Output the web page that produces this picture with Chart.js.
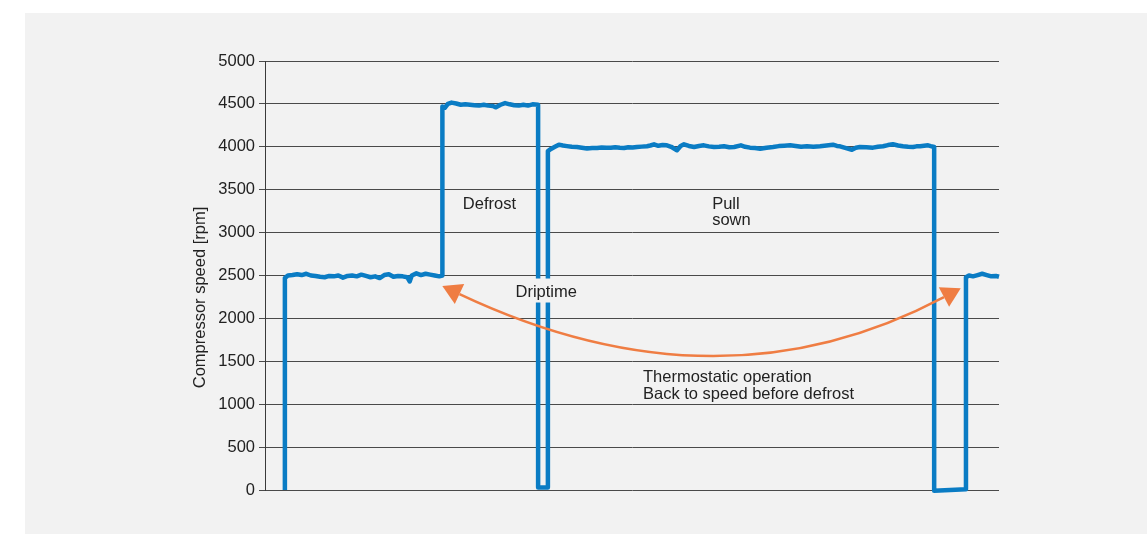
<!DOCTYPE html>
<html>
<head>
<meta charset="utf-8">
<script src="https://cdn.jsdelivr.net/npm/chart.js@4.4.1/dist/chart.umd.min.js"></script>
<style>
  html, body { margin: 0; padding: 0; background: #ffffff; }
  #panel { position: absolute; left: 25px; top: 13px; width: 1122px; height: 521px; background: #f2f2f2; }
  #panel canvas { display: block; }
</style>
</head>
<body>
<div id="panel"><canvas id="speedChart" width="1122" height="521"></canvas></div>
<script>
// Time axis (minutes) and compressor speed (rpm) over one defrost cycle
const times = [
  6.5, 6.5, 7.5, 9, 10.5, 12, 13.5, 15, 16.5, 18, 19.5, 21, 22.5, 24, 25.5, 27, 28.5, 30, 31.5, 33,
  34.5, 36, 37.5, 39, 40.5, 42, 43.5, 45, 46.5, 47.3, 48, 49.5, 51, 52.5, 54, 55.5, 57, 58,
  58, 58.8, 59.8, 61, 62.5, 64, 65.5, 67, 68.5, 70, 71.5, 73, 74.5, 75.5, 77, 78.5, 80, 81.5,
  83, 84.5, 86, 87.5, 89.3,
  89.3, 92.5,
  92.5, 93.5, 94.8, 96.1, 97.4, 98.7, 100.3, 102, 103.6, 105.3, 107, 108.6, 110.1, 111.6, 113.1,
  114.5, 116, 117.4, 118.8, 120.2, 121.6, 123.2, 124.9, 126, 127.2, 128.6, 130, 131.4, 132.8, 134,
  134.7, 135.9, 137, 138.6, 140.3, 141.9, 143.5, 145.1, 146.8, 148.5, 150.1, 151.8, 153.4, 155.6,
  157, 158.6, 160.2, 161.9, 164, 166.1, 168, 169.8, 171.7, 173.5, 175.3, 177.2, 179.3, 181.5,
  183.6, 185.7, 187, 188, 190, 191.9, 193.2, 194.5, 196.6, 198.8, 200.4, 202.1, 203.7, 205.3,
  207, 208.6, 210.3, 211.9, 213, 214.2, 215.5, 216.8, 217.7, 218.8,
  218.8, 229.2,
  229.2, 230.2, 231.5, 233, 234.5, 236, 237.5, 239, 240
];
const speeds = [
  0, 2470, 2500, 2505, 2515, 2505, 2520, 2500, 2495, 2485, 2480, 2495, 2490, 2500, 2475, 2495, 2500, 2490, 2510, 2495,
  2480, 2490, 2470, 2505, 2515, 2485, 2495, 2490, 2480, 2430, 2500, 2525, 2505, 2520, 2510, 2500, 2490, 2500,
  4470, 4455, 4500, 4515, 4505, 4490, 4495, 4490, 4485, 4480, 4490, 4480, 4475, 4460, 4490, 4510, 4495, 4485,
  4480, 4490, 4480, 4495, 4490,
  30, 30,
  3950, 3975, 4000, 4025, 4015, 4008, 4000, 3998, 3990, 3980, 3985, 3986, 3992, 3990, 3990,
  3995, 3988, 3986, 3995, 3992, 3998, 4002, 4006, 4015, 4029, 4012, 4020, 4017, 4000, 3975,
  3960, 4010, 4029, 4010, 3998, 4010, 4017, 4005, 3998, 4000, 4006, 3995, 3998, 4017,
  4000, 3990, 3985, 3978, 3990, 3998, 4008, 4012, 4017, 4010, 4000, 4006, 4000, 4006,
  4015, 4025, 4010, 4006, 3985, 3966, 3990, 3998, 3995, 3990, 4000, 4006, 4020, 4029,
  4015, 4006, 4000, 3998, 4005, 4006, 4012, 4017, 4008, 3998,
  -8, 8,
  2480, 2500, 2490, 2505, 2520, 2505, 2490, 2495, 2485
];
const speedTicks = [0, 500, 1000, 1500, 2000, 2500, 3000, 3500, 4000, 4500, 5000];

// Curved arrow: start, control point, end (time, rpm)
const arrowCurve = [[63.6, 2284], [148.3, 857], [222.0, 2249]];

// Text notes placed on the plot (time, rpm at baseline)
const notes = [
  { text: 'Defrost', at: [64.7, 3275] },
  { text: 'Pull', at: [146.2, 3280] },
  { text: 'sown', at: [146.2, 3085] },
  { text: 'Driptime', at: [81.9, 2255], boxed: true },
  { text: 'Thermostatic operation', at: [123.6, 1259] },
  { text: 'Back to speed before defrost', at: [123.6, 1066] }
];
const axisTitle = 'Compressor speed [rpm]';

const BLUE = '#0a7cc4';
const ORANGE = '#ef7d43';
const BG = '#f2f2f2';
const FONT = '"Liberation Sans", Arial, Helvetica, sans-serif';

const notesPlugin = {
  id: 'notes',
  afterDatasetsDraw(chart) {
    const { ctx, chartArea, scales: { x, y } } = chart;
    const P = (p) => [x.getPixelForValue(p[0]), y.getPixelForValue(p[1])];
    ctx.save();

    // curved arrow with a head at each end
    const s = P(arrowCurve[0]), c = P(arrowCurve[1]), e = P(arrowCurve[2]);
    ctx.strokeStyle = ORANGE;
    ctx.fillStyle = ORANGE;
    ctx.lineWidth = 2.5;
    ctx.beginPath();
    ctx.moveTo(s[0], s[1]);
    ctx.quadraticCurveTo(c[0], c[1], e[0], e[1]);
    ctx.stroke();
    const head = (base, ctrl) => {
      let dx = base[0] - ctrl[0], dy = base[1] - ctrl[1];
      const len = Math.hypot(dx, dy);
      dx /= len; dy /= len;
      const L = 19, W = 11;
      const tip = [base[0] + dx * L, base[1] + dy * L];
      ctx.beginPath();
      ctx.moveTo(tip[0], tip[1]);
      ctx.lineTo(base[0] - dy * W, base[1] + dx * W);
      ctx.lineTo(base[0] + dy * W, base[1] - dx * W);
      ctx.closePath();
      ctx.fill();
    };
    head(s, c);
    head(e, c);

    // text notes
    ctx.font = '16.5px ' + FONT;
    ctx.textAlign = 'left';
    ctx.textBaseline = 'alphabetic';
    notes.forEach(n => {
      const [px, py] = P(n.at);
      if (n.boxed) {
        const w = ctx.measureText(n.text).width;
        ctx.fillStyle = BG;
        ctx.fillRect(px - 3, py - 18, w + 6, 24);
      }
      ctx.fillStyle = '#222222';
      ctx.fillText(n.text, px, py);
    });

    // y axis title
    ctx.translate(chartArea.left - 65, (chartArea.top + chartArea.bottom) / 2 + 22);
    ctx.rotate(-Math.PI / 2);
    ctx.textAlign = 'center';
    ctx.textBaseline = 'middle';
    ctx.fillStyle = '#222222';
    ctx.fillText(axisTitle, 0, 0);
    ctx.restore();
  }
};

new Chart(document.getElementById('speedChart'), {
  type: 'scatter',
  data: {
    datasets: [{
      data: times.map((t, i) => ({ x: t, y: speeds[i] })),
      showLine: true,
      borderColor: BLUE,
      borderWidth: 4.5,
      pointRadius: 0,
      pointHoverRadius: 0,
      tension: 0,
      borderJoinStyle: 'round',
      borderCapStyle: 'butt',
      clip: 6
    }]
  },
  options: {
    responsive: false,
    animation: false,
    events: [],
    layout: { padding: { left: 0, top: 48, right: 148, bottom: 44 } },
    plugins: { legend: { display: false }, tooltip: { enabled: false } },
    scales: {
      x: { type: 'linear', display: false, min: 0, max: 240 },
      y: {
        min: 0,
        max: 5000,
        afterBuildTicks: (scale) => { scale.ticks = speedTicks.map(v => ({ value: v })); },
        afterFit: (scale) => { scale.width = 240; },
        border: { display: true, color: '#3a3a3a', width: 1 },
        grid: { color: '#4a4a4a', lineWidth: 1, drawTicks: true, tickLength: 6 },
        ticks: {
          color: '#222222',
          padding: 4,
          font: { family: FONT, size: 16.5 },
          callback: (v) => String(v)
        }
      }
    }
  },
  plugins: [notesPlugin]
});
</script>
</body>
</html>
